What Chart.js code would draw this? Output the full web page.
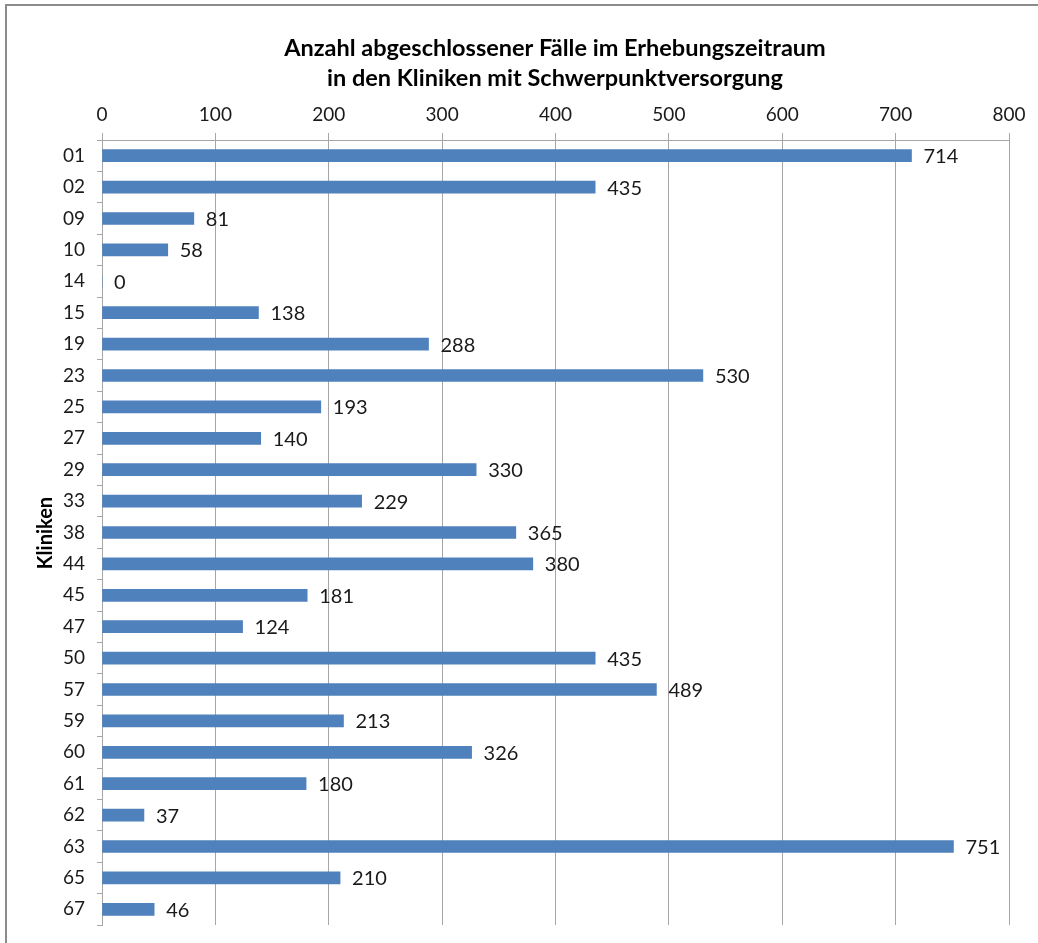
<!DOCTYPE html>
<html><head><meta charset="utf-8">
<script src="https://cdn.jsdelivr.net/npm/chart.js@4"></script>
<style>html,body{margin:0;padding:0;background:#fff;}#wrap{width:1038px;height:943px;}</style>
</head><body><div id="wrap"><canvas id="c" width="1038" height="943"></canvas></div>
<script>
const categories = ['01','02','09','10','14','15','19','23','25','27','29','33','38','44','45','47','50','57','59','60','61','62','63','65','67'];
const values = [714,435,81,58,0,138,288,530,193,140,330,229,365,380,181,124,435,489,213,326,180,37,751,210,46];
const titleLines = ['Anzahl abgeschlossener Fälle im Erhebungszeitraum','in den Kliniken mit Schwerpunktversorgung'];
const yTitle = 'Kliniken';
const FONT = 'Lato, "Open Sans", sans-serif';

const decor = {
  id:'decor',
  afterDraw(chart){
    const ctx = chart.ctx;
    ctx.save();
    ctx.strokeStyle = '#8c8c8c'; ctx.lineWidth = 2;
    ctx.beginPath(); ctx.moveTo(6, 943); ctx.lineTo(6, 5); ctx.lineTo(1038, 5); ctx.stroke();
    ctx.fillStyle = '#000'; ctx.font = 'bold 23.5px ' + FONT; ctx.textAlign = 'center'; ctx.textBaseline = 'middle';
    ctx.fillText(titleLines[0], 555, 48);
    ctx.fillText(titleLines[1], 555, 78);
    ctx.save(); ctx.translate(46, 533); ctx.rotate(-Math.PI/2);
    ctx.font = 'bold 20px ' + FONT; ctx.fillText(yTitle, 0, 0); ctx.restore();
    const meta = chart.getDatasetMeta(0);
    ctx.font = '20px ' + FONT; ctx.fillStyle = '#1a1a1a'; ctx.textAlign = 'left'; ctx.textBaseline = 'middle';
    meta.data.forEach((bar, i) => {
      ctx.fillText(String(values[i]), bar.x + 12, bar.y + 1);
    });
    ctx.restore();
  }
};

new Chart(document.getElementById('c'), {
  type:'bar',
  data:{ labels: categories, datasets:[{ data: values, backgroundColor:'#4F81BD', borderWidth:0, barThickness:12 }]},
  options:{
    indexAxis:'y', responsive:false, animation:false,
    layout:{ autoPadding:false, padding:{ left:0, top:0, right:29, bottom:18 } },
    plugins:{ legend:{display:false}, title:{display:false}, tooltip:{enabled:false} },
    scales:{
      x:{ position:'top', min:0, max:800,
          ticks:{ stepSize:100, color:'#1a1a1a', font:{family:FONT, size:19}, padding:7 },
          grid:{ color:'#a6a6a6', lineWidth:1, tickLength:7, drawTicks:true },
          border:{ color:'#a6a6a6' },
          afterFit(s){ s.height = 140; s.paddingLeft = 0; s.paddingRight = 0; } },
      y:{ ticks:{ color:'#1a1a1a', font:{family:FONT, size:19}, padding:12, autoSkip:false },
          grid:{ offset:true, drawOnChartArea:false, color:'#a6a6a6', tickLength:5 },
          border:{ color:'#a6a6a6' },
          afterFit(s){ s.width = 102; s.paddingTop = 0; s.paddingBottom = 0; } }
    }
  },
  plugins:[decor]
});
</script></body></html>
